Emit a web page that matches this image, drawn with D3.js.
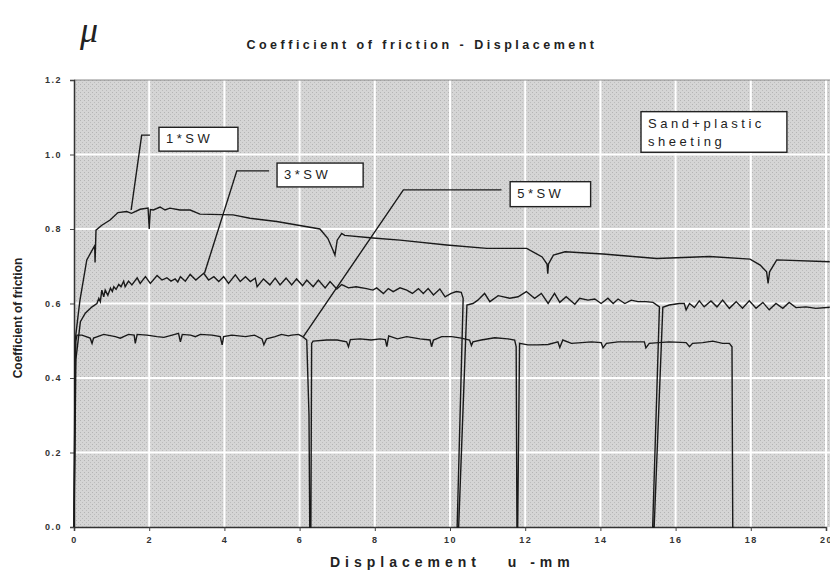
<!DOCTYPE html>
<html>
<head>
<meta charset="utf-8">
<script src="https://cdn.jsdelivr.net/npm/d3@7/dist/d3.min.js"></script>
<style>
  body { margin: 0; background: #fff; }
  svg { display: block; }
</style>
</head>
<body>
<script>
// readings: [displacement mm, coefficient]
var sw1 = [[0,0],[0.03,0.5],[0.1,0.56],[0.16,0.61],[0.34,0.717],[0.51,0.748],[0.55,0.755],[0.56,0.71],[0.585,0.797],
  [0.74,0.81],[0.96,0.824],[1.17,0.844],[1.4,0.847],[1.53,0.842],[1.76,0.853],[1.97,0.856],[2.0,0.80],[2.03,0.852],
  [2.11,0.851],[2.29,0.859],[2.42,0.851],[2.55,0.856],[2.82,0.851],[3.09,0.851],[3.35,0.840],[4.23,0.838],[4.68,0.829],
  [5.39,0.82],[6.54,0.80],[6.75,0.775],[6.88,0.745],[6.94,0.73],[7.0,0.77],[7.12,0.788],[7.2,0.783],[7.95,0.776],
  [8.67,0.77],[9.91,0.757],[10.98,0.748],[12.04,0.748],[12.45,0.725],[12.58,0.706],[12.6,0.68],[12.62,0.706],
  [12.75,0.73],[13.06,0.739],[14.07,0.733],[15.5,0.721],[16.9,0.726],[17.98,0.719],[18.25,0.703],[18.42,0.685],
  [18.46,0.654],[18.5,0.685],[18.69,0.717],[20.1,0.712]];

var sw3 = [[0,0],[0.05,0.45],[0.17,0.551],[0.3,0.574],[0.48,0.591],[0.61,0.60],[0.66,0.614],[0.7,0.605],[0.74,0.636],
  [0.79,0.618],[0.83,0.636],[0.9,0.622],[0.97,0.641],[1.02,0.632],[1.06,0.645],[1.12,0.638],[1.19,0.651],[1.25,0.645],
  [1.32,0.66],[1.36,0.645],[1.45,0.66],[1.54,0.65],[1.68,0.669],[1.76,0.654],[1.9,0.672],[2.03,0.654],[2.21,0.675],
  [2.34,0.663],[2.47,0.669],[2.58,0.66],[2.69,0.666],[2.76,0.658],[2.83,0.672],[2.96,0.66],[3.09,0.678],[3.24,0.663],
  [3.45,0.681],[3.58,0.663],[3.72,0.672],[3.85,0.659],[3.98,0.672],[4.11,0.654],[4.29,0.677],[4.42,0.659],[4.56,0.672],
  [4.69,0.659],[4.82,0.668],[4.87,0.645],[5.04,0.666],[5.21,0.65],[5.35,0.668],[5.48,0.65],[5.64,0.668],[5.79,0.65],
  [5.92,0.666],[6.08,0.648],[6.19,0.663],[6.36,0.645],[6.5,0.663],[6.68,0.642],[6.81,0.659],[6.99,0.639],[7.12,0.651],
  [7.3,0.642],[7.5,0.645],[7.78,0.64],[7.95,0.636],[8.05,0.642],[8.23,0.627],[8.36,0.64],[8.49,0.632],[8.67,0.642],
  [8.85,0.636],[9.0,0.627],[9.16,0.64],[9.29,0.627],[9.42,0.64],[9.56,0.623],[9.73,0.639],[9.87,0.618],[10.03,0.627],
  [10.17,0.632],[10.3,0.63],[10.35,0.614],[10.19,0],[10.23,0],[10.45,0.596],[10.61,0.6],[10.74,0.609],[10.92,0.627],
  [11.06,0.605],[11.28,0.621],[11.59,0.614],[11.81,0.618],[12.03,0.632],[12.25,0.614],[12.43,0.627],[12.61,0.6],
  [12.78,0.627],[12.92,0.603],[13.09,0.618],[13.32,0.598],[13.45,0.614],[13.67,0.609],[13.85,0.612],[14.02,0.6],
  [14.2,0.614],[14.34,0.6],[14.47,0.612],[14.65,0.6],[14.82,0.609],[15.0,0.605],[15.21,0.605],[15.4,0.603],[15.57,0.591],
  [15.39,0],[15.43,0],[15.66,0.59],[15.83,0.596],[16.1,0.6],[16.23,0.6],[16.28,0.583],[16.37,0.6],[16.5,0.589],
  [16.63,0.607],[16.76,0.591],[16.94,0.607],[17.1,0.591],[17.25,0.609],[17.43,0.587],[17.61,0.605],[17.78,0.587],
  [17.96,0.607],[18.14,0.587],[18.32,0.603],[18.49,0.583],[18.67,0.6],[18.85,0.587],[19.02,0.603],[19.2,0.589],
  [19.47,0.591],[19.73,0.587],[20.1,0.59]];

var sw5 = [[0,0],[0.03,0.4],[0.05,0.5],[0.08,0.515],[0.21,0.515],[0.43,0.507],[0.48,0.493],[0.52,0.507],[0.79,0.517],
  [1.1,0.511],[1.23,0.507],[1.45,0.517],[1.6,0.515],[1.63,0.493],[1.68,0.517],[1.94,0.515],[2.21,0.511],[2.39,0.509],
  [2.61,0.515],[2.78,0.52],[2.83,0.497],[2.88,0.517],[3.1,0.515],[3.23,0.511],[3.36,0.517],[3.67,0.515],[3.89,0.511],
  [3.94,0.489],[3.98,0.511],[4.2,0.515],[4.56,0.511],[4.8,0.515],[5.0,0.505],[5.05,0.489],[5.12,0.505],[5.35,0.511],
  [5.52,0.517],[5.7,0.513],[5.79,0.515],[5.97,0.517],[6.08,0.511],[6.19,0.502],[6.25,0.3],[6.27,0],[6.3,0],[6.32,0.493],
  [6.36,0.499],[6.72,0.502],[7.0,0.502],[7.25,0.497],[7.3,0.484],[7.35,0.503],[7.61,0.505],[7.9,0.502],[8.14,0.505],
  [8.28,0.503],[8.32,0.484],[8.37,0.513],[8.6,0.505],[8.85,0.511],[9.2,0.505],[9.47,0.502],[9.51,0.484],[9.56,0.502],
  [9.78,0.511],[10.05,0.511],[10.3,0.507],[10.52,0.502],[10.57,0.487],[10.61,0.497],[10.83,0.502],[11.19,0.508],
  [11.54,0.505],[11.72,0.502],[11.76,0.484],[11.78,0],[11.8,0],[11.85,0.493],[12.07,0.489],[12.34,0.489],[12.61,0.49],
  [12.87,0.497],[12.92,0.482],[13.0,0.502],[13.23,0.493],[13.5,0.495],[13.76,0.497],[14.02,0.495],[14.07,0.481],
  [14.16,0.493],[14.47,0.497],[14.82,0.497],[15.17,0.497],[15.21,0.481],[15.3,0.493],[15.55,0.495],[15.83,0.497],
  [16.28,0.495],[16.37,0.484],[16.45,0.493],[16.72,0.495],[16.99,0.499],[17.25,0.493],[17.43,0.493],[17.5,0.484],
  [17.52,0],[17.54,0]];

var xTicks = [0, 2, 4, 6, 8, 10, 12, 14, 16, 18, 20];
var yTicks = [0.0, 0.2, 0.4, 0.6, 0.8, 1.0, 1.2];

// callouts: text, leader points (data units), box in data units
var callouts = [
  { lines: ["1*SW"], leader: [[2.02, 1.052], [1.80, 1.052], [1.52, 0.851]], box: [2.26, 1.073, 4.36, 1.009] },
  { lines: ["3*SW"], leader: [[5.19, 0.956], [4.33, 0.956], [3.47, 0.681]], box: [5.40, 0.977, 7.69, 0.913] },
  { lines: ["5*SW"], leader: [[11.37, 0.905], [8.76, 0.905], [6.10, 0.511]], box: [11.60, 0.927, 13.74, 0.860] },
  { lines: ["Sand+plastic", "sheeting"], leader: [], box: [15.08, 1.115, 18.96, 1.006] }
];

var w = 830, h = 571;
var padL = 74, padR = 826, padT = 80, padB = 527;

var svg = d3.select("body").append("svg")
  .attr("width", w)
  .attr("height", h)
  .style("font-family", "'Liberation Sans', Arial, sans-serif");

// stippled grey like the scan
var pat = svg.append("defs").append("pattern")
  .attr("id", "stip").attr("width", 4).attr("height", 4)
  .attr("patternUnits", "userSpaceOnUse");
pat.append("rect").attr("width", 4).attr("height", 4).attr("fill", "#d5d5d5");
pat.append("rect").attr("x", 0).attr("y", 0).attr("width", 1).attr("height", 1).attr("fill", "#b4b4b4");
pat.append("rect").attr("x", 2).attr("y", 2).attr("width", 1).attr("height", 1).attr("fill", "#bcbcbc");

var x = d3.scaleLinear().domain([0, 20]).range([padL, padR]);
var y = d3.scaleLinear().domain([0, 1.2]).range([padB, padT]);

// plot background
svg.append("rect")
  .attr("x", padL).attr("y", padT)
  .attr("width", w - padL).attr("height", padB - padT)
  .attr("fill", "url(#stip)");

// white grid
svg.append("g").selectAll("line")
  .data(xTicks.slice(1))
  .enter().append("line")
  .attr("x1", d => x(d)).attr("x2", d => x(d))
  .attr("y1", padT).attr("y2", padB)
  .attr("stroke", "#fff").attr("stroke-width", 2);

svg.append("g").selectAll("line")
  .data(yTicks.slice(1, -1))
  .enter().append("line")
  .attr("x1", padL).attr("x2", w)
  .attr("y1", d => y(d)).attr("y2", d => y(d))
  .attr("stroke", "#fff").attr("stroke-width", 2);

svg.append("line")
  .attr("x1", padL).attr("x2", w).attr("y1", padT).attr("y2", padT)
  .attr("stroke", "#8a8a8a").attr("stroke-width", 1);

// axes
var xAxis = d3.axisBottom(x).tickValues(xTicks).tickSize(4).tickPadding(6)
  .tickFormat(d3.format("d"));
var gx = svg.append("g")
  .attr("transform", "translate(0," + padB + ")")
  .call(xAxis);

var yAxis = d3.axisLeft(y).tickValues(yTicks).tickSize(4).tickPadding(8)
  .tickFormat(d3.format(".1f"));
var gy = svg.append("g")
  .attr("transform", "translate(" + padL + ",0)")
  .call(yAxis);

[gx, gy].forEach(function(g) {
  g.select(".domain").attr("stroke", "#333").attr("stroke-width", 1.5);
  g.selectAll(".tick line").attr("stroke", "#444");
  g.selectAll(".tick text")
    .attr("fill", "#333")
    .style("font-size", "9px")
    .style("font-weight", "bold")
    .style("letter-spacing", "1.5px");
});

// curves
var line = d3.line().x(d => x(d[0])).y(d => y(d[1]));

svg.append("g").selectAll("path")
  .data([sw1, sw3, sw5])
  .enter().append("path")
  .attr("d", line)
  .attr("fill", "none")
  .attr("stroke", "#1a1a1a")
  .attr("stroke-width", 1.4)
  .attr("stroke-linejoin", "miter");

// callouts
var cg = svg.append("g");
callouts.forEach(function(c) {
  if (c.leader.length) {
    cg.append("path")
      .attr("d", line(c.leader))
      .attr("fill", "none")
      .attr("stroke", "#1a1a1a")
      .attr("stroke-width", 1.4);
  }
  var bx = x(c.box[0]), by = y(c.box[1]);
  cg.append("rect")
    .attr("x", bx).attr("y", by)
    .attr("width", x(c.box[2]) - bx)
    .attr("height", y(c.box[3]) - by)
    .attr("fill", "#fff")
    .attr("stroke", "#222")
    .attr("stroke-width", 1.4);
  c.lines.forEach(function(t, i) {
    cg.append("text")
      .attr("x", bx + 7)
      .attr("y", by + 16 + i * 18)
      .attr("fill", "#222")
      .style("font-size", "13px")
      .style("letter-spacing", "3.5px")
      .text(t);
  });
});

// titles
svg.append("text")
  .attr("x", 80).attr("y", 42)
  .style("font-family", "'Liberation Serif', serif")
  .style("font-style", "italic")
  .style("font-size", "36px")
  .attr("fill", "#222")
  .text("μ");

svg.append("text")
  .attr("x", 422).attr("y", 49)
  .attr("text-anchor", "middle")
  .style("font-size", "12.5px")
  .style("font-weight", "bold")
  .style("letter-spacing", "3.5px")
  .attr("fill", "#222")
  .text("Coefficient of friction - Displacement");

svg.append("text")
  .attr("x", 330).attr("y", 567)
  .style("font-size", "14px")
  .style("font-weight", "bold")
  .style("letter-spacing", "5px")
  .style("white-space", "pre")
  .attr("fill", "#222")
  .text("Displacement   u -mm");

svg.append("text")
  .attr("transform", "translate(22,318) rotate(-90)")
  .attr("text-anchor", "middle")
  .style("font-size", "12px")
  .style("font-weight", "bold")
  .attr("fill", "#222")
  .text("Coefficient of friction");
</script>
</body>
</html>
